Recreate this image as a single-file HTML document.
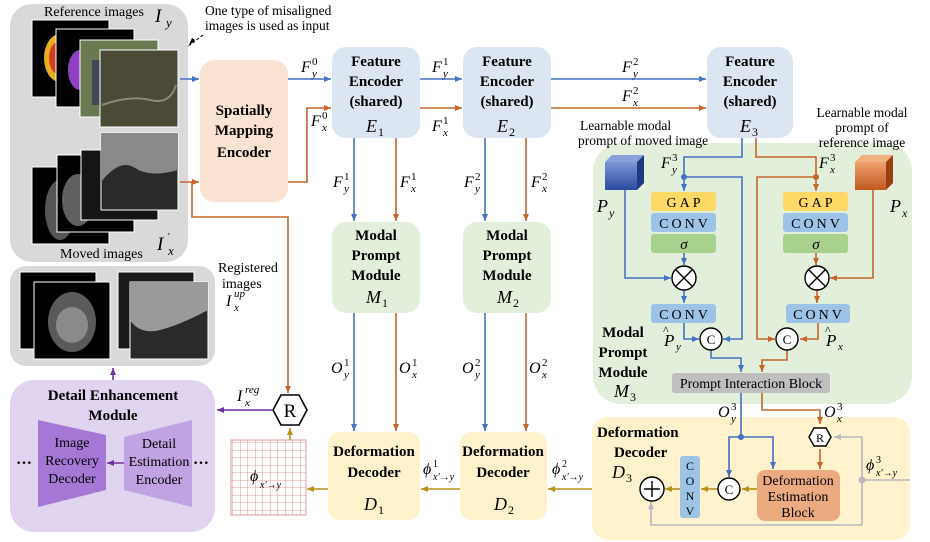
<!DOCTYPE html>
<html><head><meta charset="utf-8"><style>
body{margin:0;background:#fff}
svg{display:block;font-family:"Liberation Serif",serif}
.b{font-weight:bold;font-size:15px}
.i{font-style:italic}
</style></head><body>
<svg width="930" height="542" viewBox="0 0 930 542" xmlns="http://www.w3.org/2000/svg">
<defs>
<marker id="ab" markerWidth="8" markerHeight="8" refX="7" refY="4" orient="auto" markerUnits="userSpaceOnUse"><path d="M0,1 L7,4 L0,7z" fill="#4472C4"/></marker>
<marker id="ao" markerWidth="8" markerHeight="8" refX="7" refY="4" orient="auto" markerUnits="userSpaceOnUse"><path d="M0,1 L7,4 L0,7z" fill="#C5652B"/></marker>
<marker id="ag" markerWidth="8" markerHeight="8" refX="7" refY="4" orient="auto" markerUnits="userSpaceOnUse"><path d="M0,1 L7,4 L0,7z" fill="#B8901A"/></marker>
<marker id="ap" markerWidth="8" markerHeight="8" refX="7" refY="4" orient="auto" markerUnits="userSpaceOnUse"><path d="M0,1 L7,4 L0,7z" fill="#7030A0"/></marker>
<marker id="ay" markerWidth="8" markerHeight="8" refX="7" refY="4" orient="auto" markerUnits="userSpaceOnUse"><path d="M0,1 L7,4 L0,7z" fill="#B8B8C0"/></marker>
<marker id="ak" markerWidth="8" markerHeight="8" refX="7" refY="4" orient="auto" markerUnits="userSpaceOnUse"><path d="M0,1 L7,4 L0,7z" fill="#000"/></marker>
<linearGradient id="gb" x1="0" y1="0" x2="0" y2="1"><stop offset="0" stop-color="#7d97d6"/><stop offset="1" stop-color="#2b4aa0"/></linearGradient>
<linearGradient id="go" x1="0" y1="0" x2="0" y2="1"><stop offset="0" stop-color="#f0a070"/><stop offset="1" stop-color="#c0581e"/></linearGradient>
<pattern id="grid" width="7.5" height="7.5" patternUnits="userSpaceOnUse"><path d="M0,0 H7.5 M0,0 V7.5" stroke="#e08080" stroke-width="0.8" fill="none"/></pattern>
</defs>

<!-- Left input panel -->
<rect x="10" y="4" width="178" height="258" rx="22" fill="#D9D9D9"/>
<text x="44" y="16" font-size="14">Reference images</text>
<text x="155" y="22" font-size="19" class="i">I</text><text x="166" y="27" font-size="13" class="i">y</text>
<rect x="32" y="20" width="77" height="77" fill="#000" stroke="#fff"/>
<ellipse cx="60" cy="58" rx="16" ry="24" fill="#e8b020"/><ellipse cx="58" cy="58" rx="9" ry="16" fill="#d04020"/>
<rect x="56" y="29" width="78" height="78" fill="#000" stroke="#fff"/>
<ellipse cx="80" cy="70" rx="12" ry="20" fill="#9040c0"/>
<rect x="80" y="40" width="78" height="77" fill="#6a7a50" stroke="#fff"/>
<rect x="92" y="60" width="10" height="45" fill="#404858"/>
<rect x="100" y="50" width="78" height="77" fill="#4a4a36" stroke="#fff"/>
<path d="M102,105 Q130,95 150,100 T176,85" stroke="#8a8a78" stroke-width="2" fill="none"/>
<rect x="32" y="167" width="77" height="77" fill="#000" stroke="#fff"/>
<ellipse cx="60" cy="210" rx="15" ry="30" fill="#555"/>
<rect x="57" y="155" width="77" height="77" fill="#000" stroke="#fff"/>
<ellipse cx="78" cy="200" rx="16" ry="26" fill="#606060"/>
<rect x="81" y="150" width="77" height="70" fill="#151515" stroke="#fff"/>
<rect x="101" y="133" width="77" height="77" fill="#2a2a2a" stroke="#fff"/>
<path d="M101,133 H178 V170 Q150,178 135,168 T101,182z" fill="#8a8a8a"/>
<text x="60" y="258" font-size="14">Moved images</text>
<text x="157" y="250" font-size="19" class="i">I</text><text x="168" y="240" font-size="10">'</text><text x="168" y="255" font-size="13" class="i">x</text>
<text x="205" y="15" font-size="13.5">One type of misaligned</text>
<text x="205" y="30" font-size="13.5">images is used as input</text>
<path d="M203,35 L190,45" stroke="#000" stroke-dasharray="3,2"/><path d="M195,40 L188,47 L192,38z" fill="#000"/>

<!-- SME -->
<rect x="200" y="60" width="88" height="142" rx="14" fill="#FBE3D3"/>
<text x="244" y="115" class="b" text-anchor="middle">Spatially</text>
<text x="244" y="135" class="b" text-anchor="middle">Mapping</text>
<text x="244" y="157" class="b" text-anchor="middle">Encoder</text>
<path d="M180,79 H199" stroke="#4472C4" stroke-width="1.6" marker-end="url(#ab)"/>
<path d="M180,182 H199" stroke="#C5652B" stroke-width="1.6" marker-end="url(#ao)"/>
<path d="M192,182 V217 H288 V393" stroke="#C5652B" stroke-width="1.6" fill="none" marker-end="url(#ao)"/>
<path d="M288,79 H331" stroke="#4472C4" stroke-width="1.6" marker-end="url(#ab)"/>
<path d="M288,182 H307 V108 H331" stroke="#C5652B" stroke-width="1.6" fill="none" marker-end="url(#ao)"/>
<text x="301" y="72" font-size="16" class="i">F</text><text x="312" y="77" font-size="11" class="i">y</text><text x="312" y="65" font-size="11">0</text>
<text x="311" y="126" font-size="16" class="i">F</text><text x="322" y="131" font-size="11" class="i">x</text><text x="322" y="119" font-size="11">0</text>

<!-- Encoders -->
<g fill="#DCE6F2">
<rect x="332" y="47" width="88" height="91" rx="14"/>
<rect x="463" y="47" width="88" height="91" rx="14"/>
<rect x="707" y="47" width="86" height="91" rx="14"/>
</g>
<g class="b" text-anchor="middle">
<text x="376" y="66">Feature</text><text x="376" y="86">Encoder</text><text x="376" y="106">(shared)</text>
<text x="507" y="66">Feature</text><text x="507" y="86">Encoder</text><text x="507" y="106">(shared)</text>
<text x="750" y="66">Feature</text><text x="750" y="86">Encoder</text><text x="750" y="106">(shared)</text>
</g>
<text x="366" y="132" font-size="18" class="i">E</text><text x="378" y="136" font-size="12">1</text>
<text x="497" y="132" font-size="18" class="i">E</text><text x="509" y="136" font-size="12">2</text>
<text x="740" y="132" font-size="18" class="i">E</text><text x="752" y="136" font-size="12">3</text>

<path d="M420,79 H462" stroke="#4472C4" stroke-width="1.6" marker-end="url(#ab)"/>
<path d="M420,108 H462" stroke="#C5652B" stroke-width="1.6" marker-end="url(#ao)"/>
<path d="M551,79 H706" stroke="#4472C4" stroke-width="1.6" marker-end="url(#ab)"/>
<path d="M551,108 H706" stroke="#C5652B" stroke-width="1.6" marker-end="url(#ao)"/>
<text x="432" y="72" font-size="16" class="i">F</text><text x="443" y="77" font-size="11" class="i">y</text><text x="443" y="65" font-size="11">1</text>
<text x="432" y="131" font-size="16" class="i">F</text><text x="443" y="136" font-size="11" class="i">x</text><text x="443" y="124" font-size="11">1</text>
<text x="622" y="72" font-size="16" class="i">F</text><text x="633" y="77" font-size="11" class="i">y</text><text x="633" y="65" font-size="11">2</text>
<text x="622" y="101" font-size="16" class="i">F</text><text x="633" y="106" font-size="11" class="i">x</text><text x="633" y="94" font-size="11">2</text>

<!-- vertical E->M -->
<path d="M354,138 V221" stroke="#4472C4" stroke-width="1.6" marker-end="url(#ab)"/>
<path d="M396,138 V221" stroke="#C5652B" stroke-width="1.6" marker-end="url(#ao)"/>
<path d="M485,138 V221" stroke="#4472C4" stroke-width="1.6" marker-end="url(#ab)"/>
<path d="M526,138 V221" stroke="#C5652B" stroke-width="1.6" marker-end="url(#ao)"/>
<text x="333" y="187" font-size="16" class="i">F</text><text x="344" y="192" font-size="11" class="i">y</text><text x="344" y="180" font-size="11">1</text>
<text x="400" y="187" font-size="16" class="i">F</text><text x="411" y="192" font-size="11" class="i">x</text><text x="411" y="180" font-size="11">1</text>
<text x="464" y="187" font-size="16" class="i">F</text><text x="475" y="192" font-size="11" class="i">y</text><text x="475" y="180" font-size="11">2</text>
<text x="531" y="187" font-size="16" class="i">F</text><text x="542" y="192" font-size="11" class="i">x</text><text x="542" y="180" font-size="11">2</text>

<!-- M1 M2 -->
<rect x="332" y="222" width="88" height="91" rx="14" fill="#E2EFDA"/>
<rect x="463" y="222" width="88" height="91" rx="14" fill="#E2EFDA"/>
<g class="b" text-anchor="middle">
<text x="376" y="240">Modal</text><text x="376" y="260">Prompt</text><text x="376" y="280">Module</text>
<text x="507" y="240">Modal</text><text x="507" y="260">Prompt</text><text x="507" y="280">Module</text>
</g>
<text x="366" y="303" font-size="18" class="i">M</text><text x="382" y="307" font-size="12">1</text>
<text x="497" y="303" font-size="18" class="i">M</text><text x="513" y="307" font-size="12">2</text>

<path d="M354,313 V431" stroke="#4472C4" stroke-width="1.6" marker-end="url(#ab)"/>
<path d="M396,313 V431" stroke="#C5652B" stroke-width="1.6" marker-end="url(#ao)"/>
<path d="M485,313 V431" stroke="#4472C4" stroke-width="1.6" marker-end="url(#ab)"/>
<path d="M526,313 V431" stroke="#C5652B" stroke-width="1.6" marker-end="url(#ao)"/>
<text x="331" y="373" font-size="16" class="i">O</text><text x="344" y="378" font-size="11" class="i">y</text><text x="344" y="366" font-size="11">1</text>
<text x="399" y="373" font-size="16" class="i">O</text><text x="412" y="378" font-size="11" class="i">x</text><text x="412" y="366" font-size="11">1</text>
<text x="462" y="373" font-size="16" class="i">O</text><text x="475" y="378" font-size="11" class="i">y</text><text x="475" y="366" font-size="11">2</text>
<text x="529" y="373" font-size="16" class="i">O</text><text x="542" y="378" font-size="11" class="i">x</text><text x="542" y="366" font-size="11">2</text>

<!-- D1 D2 -->
<rect x="328" y="432" width="92" height="88" rx="12" fill="#FFF2CC"/>
<rect x="460" y="432" width="87" height="88" rx="12" fill="#FFF2CC"/>
<g class="b" text-anchor="middle">
<text x="374" y="456">Deformation</text><text x="374" y="477">Decoder</text>
<text x="503" y="456">Deformation</text><text x="503" y="477">Decoder</text>
</g>
<text x="364" y="510" font-size="18" class="i">D</text><text x="378" y="514" font-size="12">1</text>
<text x="494" y="510" font-size="18" class="i">D</text><text x="508" y="514" font-size="12">2</text>
<path d="M592,489 H548" stroke="#B8901A" stroke-width="1.6" marker-end="url(#ag)"/>
<path d="M460,489 H421" stroke="#B8901A" stroke-width="1.6" marker-end="url(#ag)"/>
<path d="M328,489 H307" stroke="#B8901A" stroke-width="1.6" marker-end="url(#ag)"/>
<text x="423" y="474" font-size="16" class="i">ϕ</text><text x="433" y="480" font-size="10" class="i">x'→y</text><text x="433" y="467" font-size="10">1</text>
<text x="552" y="474" font-size="16" class="i">ϕ</text><text x="562" y="480" font-size="10" class="i">x'→y</text><text x="562" y="467" font-size="10">2</text>

<!-- grid and R -->
<rect x="231" y="440" width="75" height="75" fill="url(#grid)" stroke="#e08080" stroke-width="0.8"/>
<text x="250" y="481" font-size="16" class="i">ϕ</text><text x="260" y="488" font-size="10" class="i">x'→y</text>
<path d="M290,440 V428" stroke="#B8901A" stroke-width="1.6" marker-end="url(#ag)"/>
<polygon points="273,410 281,395 299,395 307,410 299,425 281,425" fill="#fff" stroke="#000" stroke-width="1.6"/>
<text x="290" y="417" font-size="19" text-anchor="middle">R</text>
<path d="M272,410 H217" stroke="#7030A0" stroke-width="1.6" marker-end="url(#ap)"/>
<text x="237" y="401" font-size="16" class="i">I</text><text x="245" y="406" font-size="11" class="i">x</text><text x="245" y="393" font-size="11" class="i">reg</text>

<!-- Registered panel -->
<rect x="10" y="266" width="205" height="100" rx="16" fill="#D9D9D9"/>
<rect x="20" y="272" width="76" height="77" fill="#000" stroke="#fff"/>
<rect x="34" y="282" width="76" height="77" fill="#000" stroke="#fff"/>
<ellipse cx="72" cy="322" rx="24" ry="30" fill="#5a5a5a"/><ellipse cx="72" cy="325" rx="16" ry="18" fill="#8a8a8a"/>
<rect x="118" y="272" width="76" height="77" fill="#1a1a1a" stroke="#fff"/>
<rect x="130" y="282" width="78" height="77" fill="#2a2a2a" stroke="#fff"/>
<path d="M130,282 H208 V310 Q180,325 160,330 T130,320z" fill="#9a9a9a"/>
<text x="218" y="272" font-size="14">Registered</text>
<text x="222" y="288" font-size="14">images</text>
<text x="226" y="306" font-size="16" class="i">I</text><text x="234" y="311" font-size="11" class="i">x</text><text x="234" y="297" font-size="11" class="i">up</text>

<!-- DEM -->
<path d="M113,380 V368" stroke="#7030A0" stroke-width="1.6" marker-end="url(#ap)"/>
<rect x="10" y="380" width="205" height="152" rx="24" fill="#E0D4F0"/>
<text x="113" y="400" class="b" text-anchor="middle">Detail Enhancement</text>
<text x="113" y="420" class="b" text-anchor="middle">Module</text>
<polygon points="38,420 106,435 106,490 38,507" fill="#A678D6"/>
<polygon points="124,437 192,420 192,507 124,490" fill="#C1A2E2"/>
<g font-size="14" text-anchor="middle">
<text x="72" y="447">Image</text><text x="72" y="465">Recovery</text><text x="72" y="483">Decoder</text>
<text x="159" y="448">Detail</text><text x="159" y="466">Estimation</text><text x="159" y="484">Encoder</text>
</g>
<path d="M124,463 H107" stroke="#7030A0" stroke-width="1.6" marker-end="url(#ap)"/>
<text x="16" y="468" font-size="16" font-weight="bold">···</text>
<text x="193" y="468" font-size="16" font-weight="bold">···</text>

<!-- M3 panel -->
<rect x="593" y="143" width="319" height="261" rx="28" fill="#E2EFDA"/>
<text x="580" y="130" font-size="13.5">Learnable modal</text>
<text x="578" y="145" font-size="13.5">prompt of moved image</text>
<text x="862" y="117" font-size="13.5" text-anchor="middle">Learnable modal</text>
<text x="862" y="132" font-size="13.5" text-anchor="middle">prompt of</text>
<text x="862" y="147" font-size="13.5" text-anchor="middle">reference image</text>
<!-- cubes -->
<polygon points="605,162 612,155 644,155 637,162" fill="#8aa0dc"/>
<polygon points="637,162 644,155 644,183 637,190" fill="#1e3a80"/>
<rect x="605" y="162" width="32" height="28" fill="url(#gb)"/>
<polygon points="855,162 862,155 893,155 886,162" fill="#f0b080"/>
<polygon points="886,162 893,155 893,183 886,190" fill="#9a4010"/>
<rect x="855" y="162" width="31" height="28" fill="url(#go)"/>
<text x="597" y="212" font-size="18" class="i">P</text><text x="609" y="217" font-size="12" class="i">y</text>
<text x="890" y="212" font-size="18" class="i">P</text><text x="902" y="217" font-size="12" class="i">x</text>
<text x="661" y="168" font-size="16" class="i">F</text><text x="672" y="173" font-size="11" class="i">y</text><text x="672" y="161" font-size="11">3</text>
<text x="819" y="168" font-size="16" class="i">F</text><text x="830" y="173" font-size="11" class="i">x</text><text x="830" y="161" font-size="11">3</text>
<!-- blocks -->
<g>
<rect x="651" y="192" width="65" height="19" rx="3" fill="#FFD966"/>
<rect x="651" y="213" width="65" height="19" rx="3" fill="#9DC3E6"/>
<rect x="651" y="234" width="65" height="19" rx="3" fill="#A9D18E"/>
<rect x="783" y="192" width="65" height="19" rx="3" fill="#FFD966"/>
<rect x="783" y="213" width="65" height="19" rx="3" fill="#9DC3E6"/>
<rect x="783" y="234" width="65" height="19" rx="3" fill="#A9D18E"/>
<rect x="651" y="304" width="65" height="19" rx="3" fill="#9DC3E6"/>
<rect x="786" y="304" width="64" height="19" rx="3" fill="#9DC3E6"/>
</g>
<g font-size="14" text-anchor="middle" letter-spacing="3">
<text x="685" y="207">GAP</text><text x="685" y="228">CONV</text>
<text x="817" y="207">GAP</text><text x="817" y="228">CONV</text>
<text x="685" y="319">CONV</text><text x="819" y="319">CONV</text>
</g>
<text x="684" y="249" font-size="15" class="i" text-anchor="middle">σ</text>
<text x="816" y="249" font-size="15" class="i" text-anchor="middle">σ</text>
<!-- blue wiring -->
<g stroke="#4472C4" stroke-width="1.6" fill="none">
<path d="M742,138 V157 H684 V191" marker-end="url(#ab)"/>
<path d="M684,177 H742 V339 H723" marker-end="url(#ab)"/>
<path d="M684,253 V265" marker-end="url(#ab)"/>
<path d="M625,190 V278 H671" marker-end="url(#ab)"/>
<path d="M684,290 V303" marker-end="url(#ab)"/>
<path d="M684,323 V339 H699" marker-end="url(#ab)"/>
<path d="M711,350 V358 H741 V372" marker-end="url(#ab)"/>
</g>
<circle cx="684" cy="177" r="3" fill="#4472C4"/>
<g stroke="#C5652B" stroke-width="1.6" fill="none">
<path d="M756,138 V157 H816 V191" marker-end="url(#ao)"/>
<path d="M816,177 H757 V339 H775" marker-end="url(#ao)"/>
<path d="M816,253 V265" marker-end="url(#ao)"/>
<path d="M873,190 V278 H830" marker-end="url(#ao)"/>
<path d="M817,290 V303" marker-end="url(#ao)"/>
<path d="M818,323 V339 H800" marker-end="url(#ao)"/>
<path d="M787,350 V360 H762 V372" marker-end="url(#ao)"/>
</g>
<circle cx="816" cy="177" r="3" fill="#C5652B"/>
<g stroke="#000" stroke-width="1.4" fill="#fff">
<circle cx="684" cy="278" r="12"/><path d="M676,270 L692,286 M692,270 L676,286"/>
<circle cx="817" cy="278" r="12"/><path d="M809,270 L825,286 M825,270 L809,286"/>
<circle cx="711" cy="339" r="11"/><circle cx="787" cy="339" r="11"/>
</g>
<text x="711" y="344" font-size="13" text-anchor="middle">C</text>
<text x="787" y="344" font-size="13" text-anchor="middle">C</text>
<text x="664" y="346" font-size="17" class="i">P</text><text x="663" y="334" font-size="12">^</text><text x="676" y="350" font-size="11" class="i">y</text>
<text x="826" y="346" font-size="17" class="i">P</text><text x="825" y="334" font-size="12">^</text><text x="838" y="350" font-size="11" class="i">x</text>
<g class="b" text-anchor="middle">
<text x="623" y="337">Modal</text><text x="623" y="357">Prompt</text><text x="623" y="377">Module</text>
</g>
<text x="614" y="397" font-size="18" class="i">M</text><text x="630" y="401" font-size="12">3</text>
<rect x="672" y="373" width="158" height="20" rx="3" fill="#BFBFBF"/>
<text x="751" y="388" font-size="14" text-anchor="middle">Prompt Interaction Block</text>

<!-- D3 panel -->
<rect x="592" y="417" width="318" height="123" rx="16" fill="#FFF2CC"/>
<text x="597" y="437" class="b">Deformation</text>
<text x="614" y="457" class="b">Decoder</text>
<text x="612" y="478" font-size="18" class="i">D</text><text x="626" y="482" font-size="12">3</text>
<text x="718" y="417" font-size="16" class="i">O</text><text x="731" y="422" font-size="11" class="i">y</text><text x="731" y="410" font-size="11">3</text>
<text x="824" y="417" font-size="16" class="i">O</text><text x="837" y="422" font-size="11" class="i">x</text><text x="837" y="410" font-size="11">3</text>
<g stroke="#4472C4" stroke-width="1.6" fill="none">
<path d="M741,393 V437 H729 V477" marker-end="url(#ab)"/>
<path d="M741,437 H773 V469" marker-end="url(#ab)"/>
</g>
<circle cx="741" cy="437" r="3" fill="#4472C4"/>
<g stroke="#C5652B" stroke-width="1.6" fill="none">
<path d="M762,393 V410 H820 V424" marker-end="url(#ao)"/>
<path d="M820,449 V469" marker-end="url(#ao)"/>
</g>
<g stroke="#B8B8C0" stroke-width="1.6" fill="none">
<path d="M862,480 H910"/>
<path d="M862,525 V437 H834" marker-end="url(#ay)"/>
<path d="M862,525 H651 V502" marker-end="url(#ay)"/>
</g>
<circle cx="862" cy="480" r="3.5" fill="#B8B8C0"/>
<polygon points="809,437 814,428 826,428 831,437 826,446 814,446" fill="#fff" stroke="#000" stroke-width="1.4"/>
<text x="820" y="442" font-size="12" text-anchor="middle">R</text>
<text x="866" y="470" font-size="16" class="i">ϕ</text><text x="876" y="476" font-size="10" class="i">x'→y</text><text x="876" y="463" font-size="10">3</text>
<rect x="757" y="470" width="83" height="51" rx="8" fill="#EBAA80"/>
<g font-size="14" text-anchor="middle"><text x="798" y="485">Deformation</text><text x="798" y="501">Estimation</text><text x="798" y="517">Block</text></g>
<rect x="680" y="456" width="20" height="62" rx="3" fill="#9DC3E6"/>
<g font-size="12" text-anchor="middle"><text x="690" y="470">C</text><text x="690" y="485">O</text><text x="690" y="500">N</text><text x="690" y="515">V</text></g>
<g stroke="#B8901A" stroke-width="1.6" fill="none">
<path d="M757,489 H742" marker-end="url(#ag)"/>
<path d="M718,489 H701" marker-end="url(#ag)"/>
<path d="M680,489 H665" marker-end="url(#ag)"/>
</g>
<circle cx="729" cy="489" r="11" fill="#fff" stroke="#000" stroke-width="1.4"/>
<text x="729" y="494" font-size="13" text-anchor="middle">C</text>
<circle cx="652" cy="489" r="12" fill="#fff" stroke="#000" stroke-width="1.4"/>
<path d="M644,489 H660 M652,481 V497" stroke="#000" stroke-width="1.4"/>
</svg>
</body></html>
